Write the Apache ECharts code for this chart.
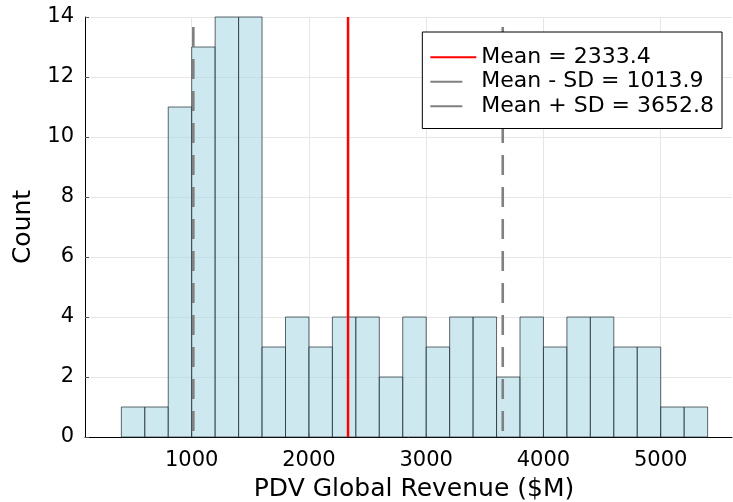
<!DOCTYPE html>
<html>
<head>
<meta charset="utf-8">
<script src="https://cdn.jsdelivr.net/npm/echarts@6/dist/echarts.min.js"></script>
<style>
  html, body { margin: 0; padding: 0; background: #ffffff; }
  #chart { width: 733px; height: 502px; }
</style>
</head>
<body>
<div id="chart"></div>
<script>
// Histogram bins (left edges, $M) and their counts
const binLefts = [400, 600, 800, 1000, 1200, 1400, 1600, 1800, 2000, 2200, 2400, 2600, 2800,
                  3000, 3200, 3400, 3600, 3800, 4000, 4200, 4400, 4600, 4800, 5000, 5200];
const binWidth = 200;
const counts = [1, 1, 11, 13, 14, 14, 3, 4, 3, 4, 4, 2, 4,
                3, 4, 4, 2, 4, 3, 4, 4, 3, 3, 1, 1];

// Reference lines: mean and mean ± one standard deviation
const refLabels = ['Mean', 'Mean - SD', 'Mean + SD'];
const refValues = [2333.4, 1013.9, 3652.8];
const refColors = ['#ff0000', '#808080', '#808080'];
const refDashed = [false, true, true];

const yTicks = [0, 2, 4, 6, 8, 10, 12, 14];
const FONT = 'DejaVu Sans';

const histData = binLefts.map((l, i) => [l, l + binWidth, counts[i]]);
const yMax = yTicks[yTicks.length - 1];

const refSeries = refValues.map((v, i) => ({
  type: 'line',
  name: refLabels[i] + ' = ' + v.toFixed(1),
  data: [[v, yMax], [v, 0]],
  symbol: 'none',
  silent: true,
  z: 3,
  lineStyle: {
    color: refColors[i],
    width: refDashed[i] ? 2.6 : 2.5,
    type: refDashed[i] ? [20, 12] : 'solid',
    dashOffset: refDashed[i] ? 22 : 0
  },
  itemStyle: { color: refColors[i] }
}));

const chart = echarts.init(document.getElementById('chart'), null, { renderer: 'canvas' });
chart.setOption({
  animation: false,
  backgroundColor: '#ffffff',
  grid: { left: 85, right: 1, top: 17, bottom: 65, containLabel: false, outerBoundsMode: 'none' },
  xAxis: {
    type: 'value',
    min: 90,
    max: 5608,
    splitNumber: 5,
    name: 'PDV Global Revenue ($M)',
    nameLocation: 'middle',
    nameGap: 40,
    nameTextStyle: { fontFamily: FONT, fontSize: 25, color: '#000', padding: [0, 0, 0, 11] },
    axisLine: { show: true, onZero: false, lineStyle: { color: '#000', width: 1 } },
    axisTick: { show: true, inside: true, length: 4, lineStyle: { color: '#555' } },
    axisLabel: {
      fontFamily: FONT, fontSize: 21, color: '#000', margin: 13,
      showMinLabel: false, showMaxLabel: false,
      formatter: v => String(v)
    },
    splitLine: { show: true, showMinLine: false, showMaxLine: false, lineStyle: { color: '#e6e6e6', width: 1 } }
  },
  yAxis: {
    type: 'value',
    min: yTicks[0],
    max: yMax,
    interval: yTicks[1] - yTicks[0],
    name: 'Count',
    nameLocation: 'middle',
    nameGap: 46,
    nameTextStyle: { fontFamily: FONT, fontSize: 25, color: '#000' },
    axisLine: { show: true, onZero: false, lineStyle: { color: '#000', width: 1 } },
    axisTick: { show: true, inside: true, length: 4, lineStyle: { color: '#555' } },
    axisLabel: { fontFamily: FONT, fontSize: 21, color: '#000', margin: 11, padding: [4, 0, 0, 0] },
    splitLine: { show: true, lineStyle: { color: '#e6e6e6', width: 1 } }
  },
  legend: {
    show: true,
    orient: 'vertical',
    right: 11,
    top: 32,
    align: 'left',
    backgroundColor: '#ffffff',
    borderColor: '#000000',
    borderWidth: 1,
    borderRadius: 0,
    padding: [13, 8, 10, 7],
    itemGap: 0,
    itemWidth: 46,
    itemHeight: 14,
    z: 10,
    itemStyle: { opacity: 0 },
    textStyle: { fontFamily: FONT, fontSize: 22, color: '#000', lineHeight: 24.5 },
    data: refSeries.map((s, i) => {
      const item = { name: s.name };
      if (refDashed[i]) item.lineStyle = { type: [32, 14], dashOffset: 0 };
      return item;
    })
  },
  series: [
    {
      type: 'custom',
      name: 'Count',
      silent: true,
      z: 2,
      data: histData,
      encode: { x: [0, 1], y: 2 },
      renderItem: function (params, api) {
        const left = api.value(0), right = api.value(1), c = api.value(2);
        const pTop = api.coord([left, c]);
        const pBot = api.coord([right, 0]);
        return {
          type: 'rect',
          shape: { x: pTop[0], y: pTop[1], width: pBot[0] - pTop[0], height: pBot[1] - pTop[1] },
          style: { fill: 'rgba(173,216,230,0.6)', stroke: 'rgba(30,40,45,0.7)', lineWidth: 1 }
        };
      }
    }
  ].concat(refSeries)
});
</script>
</body>
</html>
